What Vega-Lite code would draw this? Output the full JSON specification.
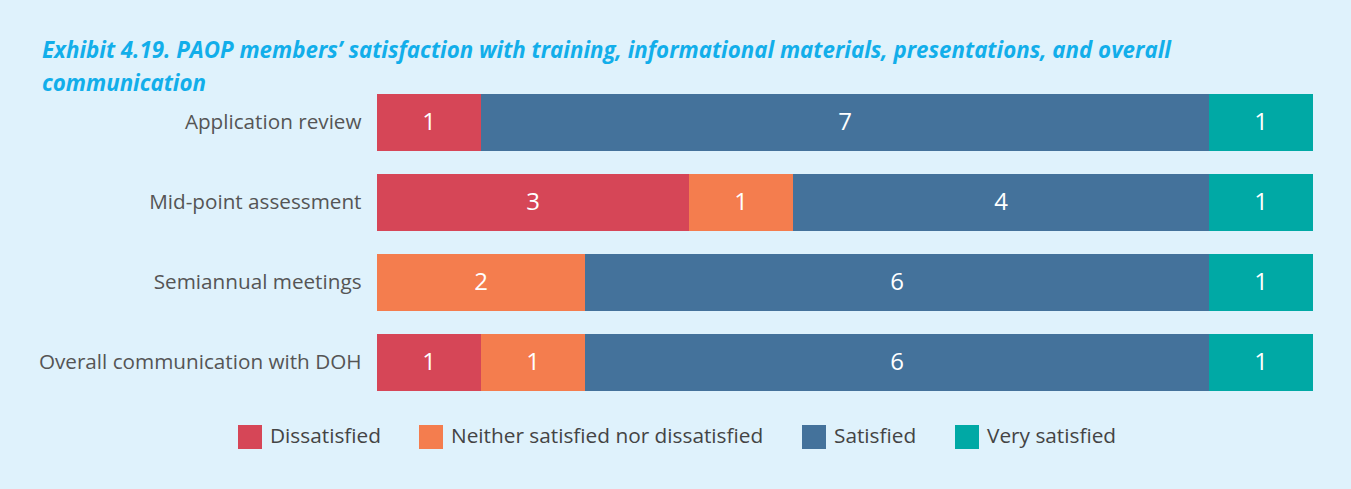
{
  "$schema": "https://vega.github.io/schema/vega-lite/v6.json",
  "autosize": {"type": "none"},
  "width": 936,
  "height": 320,
  "padding": {"left": 377, "top": 82.5, "right": 38, "bottom": 86.5},
  "background": "#dff2fc",
  "title": {
    "text": ["Exhibit 4.19. PAOP members’ satisfaction with training, informational materials, presentations, and overall", "communication"],
    "anchor": "start",
    "frame": "group",
    "dx": -335,
    "offset": 0,
    "baseline": "alphabetic",
    "dy": 31,
    "lineHeight": 33,
    "font": "Open Sans",
    "fontSize": 22.3,
    "fontStyle": "italic",
    "fontWeight": "bold",
    "color": "#12aeea"
  },
  "data": {
    "values": [
      {"item": "Application review", "category": "Dissatisfied", "value": 1},
      {"item": "Application review", "category": "Satisfied", "value": 7},
      {"item": "Application review", "category": "Very satisfied", "value": 1},
      {"item": "Mid-point assessment", "category": "Dissatisfied", "value": 3},
      {"item": "Mid-point assessment", "category": "Neither satisfied nor dissatisfied", "value": 1},
      {"item": "Mid-point assessment", "category": "Satisfied", "value": 4},
      {"item": "Mid-point assessment", "category": "Very satisfied", "value": 1},
      {"item": "Semiannual meetings", "category": "Neither satisfied nor dissatisfied", "value": 2},
      {"item": "Semiannual meetings", "category": "Satisfied", "value": 6},
      {"item": "Semiannual meetings", "category": "Very satisfied", "value": 1},
      {"item": "Overall communication with DOH", "category": "Dissatisfied", "value": 1},
      {"item": "Overall communication with DOH", "category": "Neither satisfied nor dissatisfied", "value": 1},
      {"item": "Overall communication with DOH", "category": "Satisfied", "value": 6},
      {"item": "Overall communication with DOH", "category": "Very satisfied", "value": 1}
    ]
  },
  "transform": [
    {"stack": "value", "groupby": ["item"], "sort": [{"field": "category", "order": "ascending"}], "as": ["x0", "x1"]}
  ],
  "encoding": {
    "y": {
      "field": "item",
      "type": "nominal",
      "sort": ["Application review", "Mid-point assessment", "Semiannual meetings", "Overall communication with DOH"],
      "scale": {"paddingInner": 0.2875, "paddingOuter": 0.14375},
      "axis": {
        "title": null,
        "domain": false,
        "ticks": false,
        "labelPadding": 16,
        "labelFont": "Open Sans",
        "labelFontSize": 20.7,
        "labelColor": "#555555",
        "labelLimit": 400
      }
    }
  },
  "layer": [
    {
      "mark": {"type": "bar"},
      "encoding": {
        "x": {"field": "x0", "type": "quantitative", "scale": {"domain": [0, 9], "nice": false, "zero": true}, "axis": null},
        "x2": {"field": "x1"},
        "color": {
          "field": "category",
          "type": "nominal",
          "scale": {
            "domain": ["Dissatisfied", "Neither satisfied nor dissatisfied", "Satisfied", "Very satisfied"],
            "range": ["#d64657", "#f47d4e", "#44729b", "#00a9a5"]
          },
          "legend": {
            "title": null,
            "orient": "none",
            "direction": "horizontal",
            "legendX": -139,
            "legendY": 342.5,
            "symbolType": "square",
            "symbolSize": 576,
            "symbolStrokeWidth": 0,
            "symbolOpacity": 1,
            "labelFont": "Open Sans",
            "labelFontSize": 20.8,
            "labelColor": "#444444",
            "labelOffset": 8,
            "columnPadding": 38,
            "labelLimit": 400
          }
        }
      }
    },
    {
      "transform": [
        {"fold": ["x0", "x1"], "as": ["edge", "pos"]},
        {"aggregate": [{"op": "mean", "field": "pos", "as": "mid"}, {"op": "max", "field": "value", "as": "value"}], "groupby": ["item", "category"]}
      ],
      "mark": {"type": "text", "color": "white", "font": "Open Sans", "fontSize": 24, "baseline": "middle", "align": "center"},
      "encoding": {
        "x": {"field": "mid", "type": "quantitative", "scale": {"domain": [0, 9], "nice": false, "zero": true}},
        "text": {"field": "value", "type": "quantitative"}
      }
    }
  ],
  "config": {"view": {"stroke": null}}
}
